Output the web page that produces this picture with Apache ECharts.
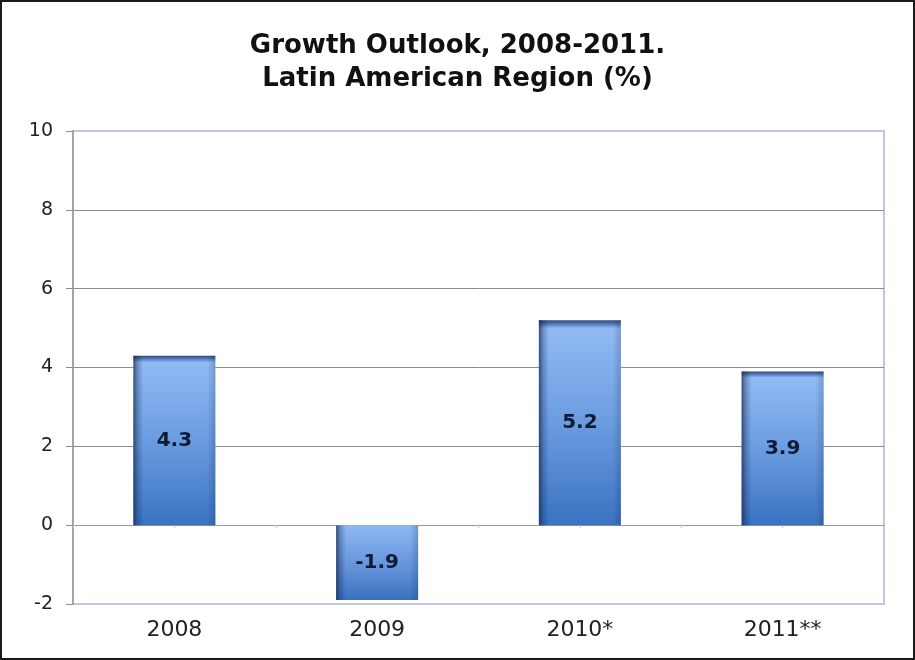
<!DOCTYPE html>
<html>
<head>
<meta charset="utf-8">
<script src="https://cdn.jsdelivr.net/npm/echarts@6/dist/echarts.min.js"></script>
<style>
html,body{margin:0;padding:0;background:#fff;}
#frame{position:absolute;left:0;top:0;width:911px;height:656px;border:2px solid #1a1a1a;}
#chart{position:absolute;left:0;top:0;width:915px;height:660px;}
</style>
</head>
<body>
<div id="frame"></div>
<div id="chart"></div>
<script>
var titleLines = ['Growth Outlook, 2008-2011.', 'Latin American Region (%)'];
var categories = ['2008', '2009', '2010*', '2011**'];
var growth = [4.3, -1.9, 5.2, 3.9];
var yMin = -2, yMax = 10, yStep = 2;

var chart = echarts.init(document.getElementById('chart'));
var vertGrad = new echarts.graphic.LinearGradient(0, 0, 0, 1, [
  {offset: 0, color: '#2c4a80'},
  {offset: 0.015, color: '#4a6fae'},
  {offset: 0.04, color: '#91baf4'},
  {offset: 0.5, color: '#6b9ce0'},
  {offset: 1, color: '#3a72c2'}
]);
var vertGradNeg = new echarts.graphic.LinearGradient(0, 0, 0, 1, [
  {offset: 0, color: '#8fb8f2'},
  {offset: 0.6, color: '#5f91d8'},
  {offset: 1, color: '#3a70bf'}
]);
var horizGrad = new echarts.graphic.LinearGradient(0, 0, 1, 0, [
  {offset: 0, color: 'rgba(15,35,75,0.7)'},
  {offset: 0.05, color: 'rgba(15,35,75,0.3)'},
  {offset: 0.12, color: 'rgba(15,35,75,0)'},
  {offset: 0.9, color: 'rgba(15,35,75,0)'},
  {offset: 1, color: 'rgba(15,35,75,0.22)'}
]);

chart.setOption({
  animation: false,
  title: {
    text: titleLines.join('\n'),
    left: 'center',
    top: 25,
    textStyle: {fontFamily: 'DejaVu Sans', fontWeight: 'bold', fontSize: 26, lineHeight: 33, color: '#111'}
  },
  grid: {left: 73, right: 31, top: 131, bottom: 56, show: true, borderColor: '#bcc6e8', borderWidth: 2, backgroundColor: 'transparent'},
  xAxis: [{
    type: 'category',
    data: categories,
    position: 'bottom',
    axisLine: {show: false, onZero: false},
    axisTick: {show: false},
    axisLabel: {fontFamily: 'DejaVu Sans', fontSize: 22, color: '#222', margin: 15}
  }, {
    type: 'value',
    min: 0, max: 4, interval: 0.5,
    position: 'bottom',
    axisLine: {show: true, onZero: true, lineStyle: {color: '#9a9a9a', width: 1}},
    axisTick: {show: true, length: 3, lineStyle: {color: '#c8c8c8'}},
    axisLabel: {show: false},
    splitLine: {show: false}
  }],
  yAxis: {
    type: 'value',
    min: yMin, max: yMax, interval: yStep,
    axisLine: {show: true, lineStyle: {color: '#a5a5a5', width: 2}},
    axisTick: {show: true, length: 7, lineStyle: {color: '#8c8c8c'}},
    axisLabel: {fontFamily: 'DejaVu Sans', fontSize: 19, color: '#222', margin: 20},
    splitLine: {show: true, showMinLine: false, showMaxLine: false, lineStyle: {color: '#8c8c8c', width: 1}}
  },
  series: [{
    type: 'bar',
    xAxisIndex: 0,
    data: growth.map(function (v) { return {value: v, itemStyle: {color: v >= 0 ? vertGrad : vertGradNeg}}; }),
    barWidth: 82,
    barGap: '-100%',
    label: {show: true, position: 'inside', fontFamily: 'DejaVu Sans', fontWeight: 'bold', fontSize: 20, color: '#0e1b36'},
    z: 2
  }, {
    type: 'bar',
    xAxisIndex: 0,
    data: growth,
    barWidth: 82,
    barGap: '-100%',
    itemStyle: {color: horizGrad},
    silent: true,
    z: 3
  }]
});
</script>
</body>
</html>
